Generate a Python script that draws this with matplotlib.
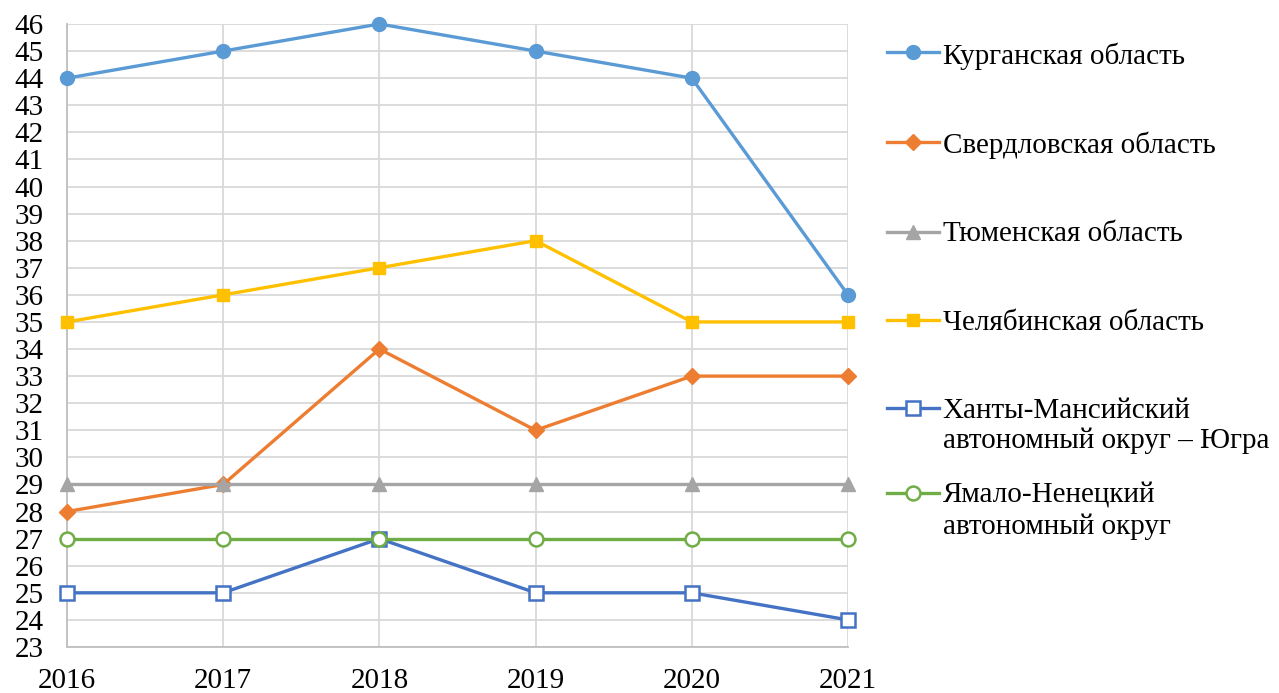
import matplotlib.pyplot as plt
from matplotlib.ticker import MultipleLocator

plt.rcParams['font.family'] = ['Liberation Serif', 'DejaVu Serif']

years = [2016, 2017, 2018, 2019, 2020, 2021]
kurgan = [44, 45, 46, 45, 44, 36]
sverdlovsk = [28, 29, 34, 31, 33, 33]
tyumen = [29, 29, 29, 29, 29, 29]
chelyabinsk = [35, 36, 37, 38, 35, 35]
khmao = [25, 25, 27, 25, 25, 24]
yanao = [27, 27, 27, 27, 27, 27]

fig = plt.figure(figsize=(12.79, 6.93), dpi=100)
ax = fig.add_axes([0.0524, 0.0664, 0.6106, 0.899])

lw = 2.4
style = dict(lw=lw, clip_on=False, zorder=4)
ax.plot(years, kurgan, color='#5B9BD5', marker='o', ms=10,
        label='Курганская область', **style)
ax.plot(years, sverdlovsk, color='#ED7D31', marker='D', ms=8.5,
        label='Свердловская область', **style)
ax.plot(years, tyumen, color='#A5A5A5', marker='^', ms=10,
        label='Тюменская область', **style)
ax.plot(years, chelyabinsk, color='#FFC000', marker='s', ms=9,
        label='Челябинская область', **style)
ax.plot(years, khmao, color='#4472C4', marker='s', ms=10,
        mfc='white', mew=1.8, label='Ханты-Мансийский\nавтономный округ – Югра', **style)
ax.plot(years, yanao, color='#70AD47', marker='o', ms=10,
        mfc='white', mew=1.8, label='Ямало-Ненецкий\nавтономный округ', **style)

ax.set_xlim(2016, 2021)
ax.set_ylim(23, 46)
ax.xaxis.set_major_locator(MultipleLocator(1))
ax.yaxis.set_major_locator(MultipleLocator(1))
ax.grid(True, color='#D9D9D9', lw=1.3)
ax.set_axisbelow(True)
for side in ['top', 'right']:
    ax.spines[side].set_visible(False)
for side in ['left', 'bottom']:
    ax.spines[side].set_color('#BFBFBF')
    ax.spines[side].set_linewidth(1.3)
ax.tick_params(axis='both', length=0, labelsize=21)
ax.tick_params(axis='x', pad=15)
ax.tick_params(axis='y', pad=17)

# legend: markers sit on the first line of wrapped labels
handles, labels = ax.get_legend_handles_labels()
leg_kw = dict(loc='upper left', frameon=False, fontsize=21, handlelength=1.8,
              handletextpad=0.13, labelspacing=2.13, borderaxespad=0)
leg1 = fig.legend(handles[:5], labels[:5], bbox_to_anchor=(0.684, 0.956), **leg_kw)
leg2 = fig.legend(handles[5:], labels[5:], bbox_to_anchor=(0.684, 0.320), **leg_kw)
for leg in (leg1, leg2):
    for col in leg._legend_handle_box.get_children():
        for row in col.get_children():
            row.align = 'top'

fig.savefig('out.png', dpi=100)
